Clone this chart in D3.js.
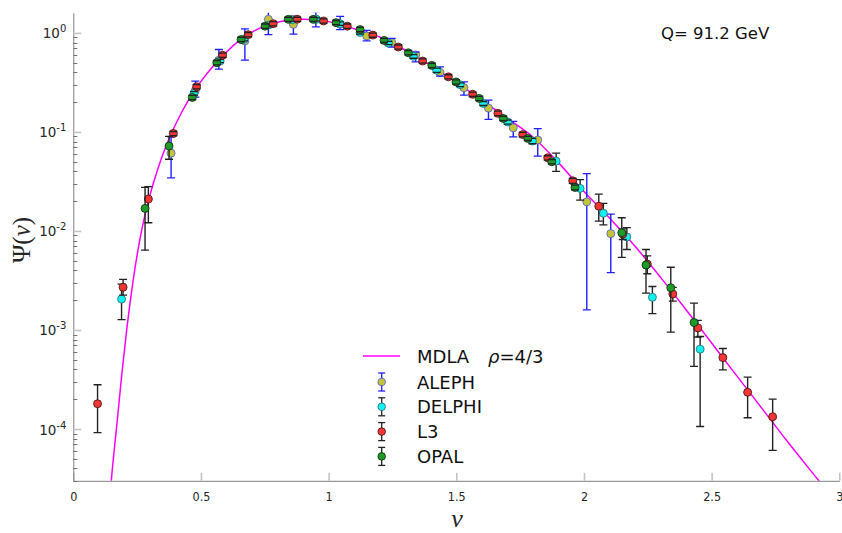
<!DOCTYPE html>
<html><head><meta charset="utf-8">
<script src="https://cdn.jsdelivr.net/npm/d3@7"></script>
<style>
html,body{margin:0;padding:0;background:#fff;}
svg{display:block;}
</style></head>
<body>
<svg id="chart" width="842" height="533"></svg>
<script>
// ---------- data ----------
const xTicks = [0, 0.5, 1, 1.5, 2, 2.5, 3];
const xTickLabels = ["0", "0.5", "1", "1.5", "2", "2.5", "3"];
const yMajorTicks = [1e-4, 1e-3, 1e-2, 1e-1, 1];
const yTickExponents = ["-4", "-3", "-2", "-1", "0"];

// MDLA rho=4/3 curve
const curveNu  = [0.14, 0.148, 0.16, 0.172, 0.19, 0.21, 0.235, 0.26, 0.28, 0.30, 0.33, 0.36, 0.385, 0.42, 0.45, 0.5, 0.55, 0.6, 0.65, 0.7, 0.75, 0.8, 0.85, 0.9, 0.95, 1.0, 1.05, 1.1, 1.2, 1.3, 1.4, 1.5, 1.6, 1.7, 1.8, 1.9, 2.0, 2.1, 2.2, 2.3, 2.4, 2.5, 2.6, 2.7, 2.8, 2.92, 2.95];
const curveVal = [1.41e-5, 2.82e-5, 6.03e-5, 1.20e-4, 3.59e-4, 1.05e-3, 3.24e-3, 8.04e-3, 0.0143, 0.0229, 0.0416, 0.0684, 0.0977, 0.150, 0.207, 0.324, 0.47, 0.64, 0.84, 1.02, 1.17, 1.28, 1.35, 1.37, 1.35, 1.3, 1.21, 1.1, 0.91, 0.67, 0.47, 0.316, 0.21, 0.137, 0.089, 0.049, 0.025, 0.0135, 0.0070, 0.0034, 0.0016, 7.4e-4, 3.4e-4, 1.58e-4, 7.3e-5, 3.0e-5, 2.4e-5];

// ALEPH
const alephNu  = [0.383, 0.478, 0.57, 0.672, 0.764, 0.862, 0.95, 1.045, 1.149, 1.247, 1.341, 1.436, 1.530, 1.626, 1.723, 1.819, 2.011, 2.105];
const alephVal = [0.061, 0.262, 0.53, 0.83, 1.37, 1.22, 1.38, 1.22, 0.93, 0.80, 0.60, 0.40, 0.28, 0.174, 0.110, 0.083, 0.0197, 0.0094];
const alephLo  = [0.0344, 0.225, 0.43, 0.53, 0.96, 0.97, 1.15, 1.08, 0.83, 0.72, 0.51, 0.366, 0.235, 0.134, 0.089, 0.057, 0.0016, 0.0038];
const alephHi  = [0.089, 0.326, 0.68, 1.1, 1.69, 1.48, 1.63, 1.47, 1.06, 0.88, 0.64, 0.454, 0.32, 0.21, 0.128, 0.108, 0.038, 0.0148];

// DELPHI
const delphiNu  = [0.189, 0.473, 0.575, 0.668, 0.765, 0.858, 0.952, 1.045, 1.123, 1.234, 1.332, 1.423, 1.515, 1.606, 1.701, 1.798, 1.891, 1.985, 2.076, 2.168, 2.268, 2.455];
const delphiVal = [2.05e-3, 0.245, 0.52, 0.86, 1.2, 1.36, 1.37, 1.24, 1.01, 0.79, 0.58, 0.42, 0.30, 0.194, 0.126, 0.081, 0.0507, 0.0269, 0.0151, 8.7e-3, 2.14e-3, 6.4e-4];
const delphiLo  = [1.27e-3, 0.235, 0.5, 0.83, 1.15, 1.31, 1.32, 1.19, 0.97, 0.76, 0.555, 0.40, 0.287, 0.185, 0.12, 0.076, 0.040, 0.0205, 0.0115, 6.5e-3, 1.46e-3, 1.06e-4];
const delphiHi  = [2.9e-3, 0.255, 0.54, 0.89, 1.25, 1.41, 1.42, 1.29, 1.05, 0.82, 0.605, 0.44, 0.313, 0.203, 0.132, 0.086, 0.061, 0.033, 0.019, 0.0108, 2.75e-3, 8.6e-4];

// L3
const l3Nu  = [0.095, 0.195, 0.294, 0.392, 0.483, 0.585, 0.685, 0.783, 0.877, 0.98, 1.073, 1.173, 1.273, 1.368, 1.469, 1.564, 1.663, 1.760, 1.858, 1.956, 2.058, 2.152, 2.248, 2.348, 2.446, 2.544, 2.641, 2.739];
const l3Val = [1.8e-4, 2.7e-3, 0.021, 0.0966, 0.286, 0.595, 0.96, 1.24, 1.375, 1.32, 1.17, 0.95, 0.72, 0.52, 0.36, 0.24, 0.154, 0.094, 0.0548, 0.0321, 0.0178, 9.3e-3, 4.63e-3, 2.31e-3, 1.05e-3, 5.26e-4, 2.35e-4, 1.33e-4];
const l3Lo  = [9.2e-5, 2.25e-3, 0.0121, 0.092, 0.272, 0.566, 0.913, 1.18, 1.31, 1.255, 1.113, 0.904, 0.685, 0.495, 0.343, 0.228, 0.146, 0.089, 0.052, 0.0302, 0.0126, 8.2e-3, 3.7e-3, 1.96e-3, 8.5e-4, 3.95e-4, 1.3e-4, 6.1e-5];
const l3Hi  = [2.8e-4, 3.25e-3, 0.028, 0.101, 0.30, 0.625, 1.01, 1.30, 1.44, 1.385, 1.23, 0.997, 0.755, 0.546, 0.378, 0.252, 0.162, 0.099, 0.0575, 0.034, 0.0235, 0.0105, 5.6e-3, 2.7e-3, 1.25e-3, 6.5e-4, 3.34e-4, 2.0e-4];

// OPAL
const opalNu  = [0.281, 0.375, 0.466, 0.562, 0.657, 0.751, 0.842, 0.940, 1.029, 1.123, 1.217, 1.312, 1.404, 1.499, 1.590, 1.684, 1.780, 1.874, 1.965, 2.148, 2.243, 2.340, 2.431];
const opalVal = [0.0169, 0.072, 0.223, 0.50, 0.857, 1.17, 1.37, 1.37, 1.27, 1.08, 0.84, 0.63, 0.47, 0.32, 0.218, 0.137, 0.086, 0.050, 0.0275, 9.6e-3, 4.53e-3, 2.67e-3, 1.19e-3];
const opalLo  = [0.0064, 0.053, 0.212, 0.476, 0.815, 1.113, 1.305, 1.305, 1.21, 1.028, 0.80, 0.60, 0.447, 0.304, 0.207, 0.130, 0.082, 0.0475, 0.026, 5.4e-3, 2.36e-3, 9.5e-4, 4.3e-4];
const opalHi  = [0.0275, 0.090, 0.234, 0.525, 0.9, 1.23, 1.44, 1.44, 1.335, 1.135, 0.882, 0.662, 0.494, 0.336, 0.229, 0.144, 0.090, 0.0525, 0.029, 0.0136, 6.5e-3, 4.3e-3, 1.87e-3];

const seriesNames = ["ALEPH", "DELPHI", "L3", "OPAL"];

// ---------- chart ----------
const svg = d3.select("#chart");
const X0 = 73.3, X1 = 839.3, Y0 = 480.8, Y1 = 12.7;
const x = d3.scaleLinear().domain([0, 3]).range([X0, X1]);
const y = d3.scaleLog().domain([3e-5, 1.6]).range([Y0, Y1]);

const series = [
  {name: "ALEPH",  nu: alephNu,  v: alephVal,  lo: alephLo,  hi: alephHi,  fill: "#c4c43a", edge: "#4a5ad0", bar: "#1f1fff"},
  {name: "DELPHI", nu: delphiNu, v: delphiVal, lo: delphiLo, hi: delphiHi, fill: "#12f0f0", edge: "#2a6a70", bar: "#222"},
  {name: "L3",     nu: l3Nu,     v: l3Val,     lo: l3Lo,     hi: l3Hi,     fill: "#f23535", edge: "#3a1010", bar: "#222"},
  {name: "OPAL",   nu: opalNu,   v: opalVal,   lo: opalLo,   hi: opalHi,   fill: "#1f9a2a", edge: "#0c2a0c", bar: "#222"}
];

svg.append("defs").append("clipPath").attr("id", "plotclip")
  .append("rect").attr("x", X0).attr("y", Y1).attr("width", X1 - X0).attr("height", Y0 - Y1);

// axes
const xAxis = d3.axisBottom(x).tickValues(xTicks).tickSizeInner(-8).tickSizeOuter(0)
  .tickFormat((d, i) => xTickLabels[i]);
const gx = svg.append("g").attr("transform", `translate(0,${Y0})`).call(xAxis);
gx.select(".domain").attr("stroke", "#808080").attr("stroke-width", 1);
gx.selectAll(".tick line").attr("stroke", "#c4c4c4").attr("stroke-width", 1.6);
gx.selectAll(".tick text").attr("y", 11).attr("dy", "0.71em")
  .attr("font-family", "'DejaVu Sans Condensed','DejaVu Sans',sans-serif").attr("font-size", 12.5).attr("fill", "#262626");

const yAxis = d3.axisLeft(y).tickValues(yMajorTicks).tickSizeInner(-8).tickSizeOuter(0).tickFormat(() => "");
const gy = svg.append("g").attr("transform", `translate(${X0},0)`).call(yAxis);
gy.select(".domain").attr("stroke", "#808080").attr("stroke-width", 1);
gy.selectAll(".tick line").attr("stroke", "#c4c4c4").attr("stroke-width", 1.6);
gy.selectAll(".tick text").remove();
gy.selectAll(".tick").each(function(d, i) {
  const t = d3.select(this).append("text")
    .attr("x", -7).attr("y", 5).attr("text-anchor", "end")
    .attr("font-family", "'DejaVu Sans',sans-serif").attr("font-size", 13.5).attr("fill", "#262626");
  t.append("tspan").text("10");
  t.append("tspan").attr("dy", -6).attr("font-size", 10).text(yTickExponents[i]);
});
// minor ticks
const minor = [];
for (let e = -5; e <= 0; e++) for (let m = 2; m <= 9; m++) {
  const v = m * Math.pow(10, e);
  if (v >= 3e-5 && v <= 1.6) minor.push(v);
}
svg.append("g").selectAll("line").data(minor).join("line")
  .attr("x1", X0).attr("x2", X0 + 4)
  .attr("y1", d => Math.round(y(d)) + 0.5).attr("y2", d => Math.round(y(d)) + 0.5)
  .attr("stroke", "#707070").attr("stroke-width", 1);

// axis titles
svg.append("text").attr("transform", `translate(30,240) rotate(-90)`)
  .attr("text-anchor", "middle").attr("font-family", "'Liberation Serif','DejaVu Serif',serif")
  .attr("font-size", 25).attr("fill", "#262626")
  .call(t => { t.append("tspan").text("Ψ("); t.append("tspan").attr("font-style", "italic").text("ν"); t.append("tspan").text(")"); });
svg.append("text").attr("x", 457).attr("y", 527).attr("text-anchor", "middle")
  .attr("font-family", "'Liberation Serif','DejaVu Serif',serif").attr("font-style", "italic")
  .attr("font-size", 26).attr("fill", "#262626").text("ν");

// curve
const plot = svg.append("g").attr("clip-path", "url(#plotclip)");
const curvePts = curveNu.map((n, i) => [n, curveVal[i]]);
plot.append("path").datum(curvePts)
  .attr("d", d3.line().x(d => x(d[0])).y(d => y(d[1])).curve(d3.curveMonotoneX))
  .attr("fill", "none").attr("stroke", "#ff00ff").attr("stroke-width", 1.5);

// data points
const R = 4, CAP = 4;
function drawBars(g, s) {
  const idx = d3.range(s.nu.length);
  g.selectAll("line").data(idx).join("line")
    .attr("x1", i => x(s.nu[i])).attr("x2", i => x(s.nu[i]))
    .attr("y1", i => y(s.lo[i])).attr("y2", i => y(s.hi[i]))
    .attr("stroke", s.bar).attr("stroke-width", 1.4);
}
function drawCaps(g, s) {
  const idx = d3.range(s.nu.length);
  ["lo", "hi"].forEach(k => {
    g.append("g").selectAll("line").data(idx).join("line")
      .attr("x1", i => x(s.nu[i]) - CAP).attr("x2", i => x(s.nu[i]) + CAP)
      .attr("y1", i => y(s[k][i])).attr("y2", i => y(s[k][i]))
      .attr("stroke", s.bar).attr("stroke-width", 1.3);
  });
}
series.forEach(s => {
  const g = plot.append("g");
  drawBars(g.append("g"), s);
  const idx = d3.range(s.nu.length);
  g.append("g").selectAll("circle").data(idx).join("circle")
    .attr("cx", i => x(s.nu[i])).attr("cy", i => y(s.v[i])).attr("r", R)
    .attr("fill", s.fill).attr("stroke", s.edge).attr("stroke-width", 0.8);
  drawCaps(g.append("g"), s);
});

// legend
const lg = svg.append("g");
lg.append("line").attr("x1", 363).attr("x2", 400).attr("y1", 356).attr("y2", 356)
  .attr("stroke", "#ff00ff").attr("stroke-width", 1.5);
const lt = lg.append("text").attr("x", 417).attr("y", 362.5)
  .attr("font-family", "'DejaVu Sans',sans-serif").attr("font-size", 18).attr("fill", "#111");
lt.append("tspan").text("MDLA");
lt.append("tspan").attr("x", 488).attr("font-style", "italic").text("ρ");
lt.append("tspan").text("=4/3");
series.forEach((s, k) => {
  const cy = 382 + k * 24.8, cx = 381.7;
  lg.append("line").attr("x1", cx).attr("x2", cx).attr("y1", cy - 9).attr("y2", cy + 9)
    .attr("stroke", s.bar).attr("stroke-width", 1.3);
  [-9, 9].forEach(o => lg.append("line").attr("x1", cx - 3.5).attr("x2", cx + 3.5)
    .attr("y1", cy + o).attr("y2", cy + o).attr("stroke", s.bar).attr("stroke-width", 1.3));
  lg.append("circle").attr("cx", cx).attr("cy", cy).attr("r", 3.8)
    .attr("fill", s.fill).attr("stroke", s.edge).attr("stroke-width", 0.8);
  lg.append("text").attr("x", 417).attr("y", cy + 6.5)
    .attr("font-family", "'DejaVu Sans',sans-serif").attr("font-size", 18).attr("fill", "#111")
    .text(seriesNames[k]);
});

// annotation
svg.append("text").attr("x", 661).attr("y", 39.3)
  .attr("font-family", "'DejaVu Sans',sans-serif").attr("font-size", 16.5).attr("fill", "#111")
  .text("Q= 91.2 GeV");
</script>
</body></html>
